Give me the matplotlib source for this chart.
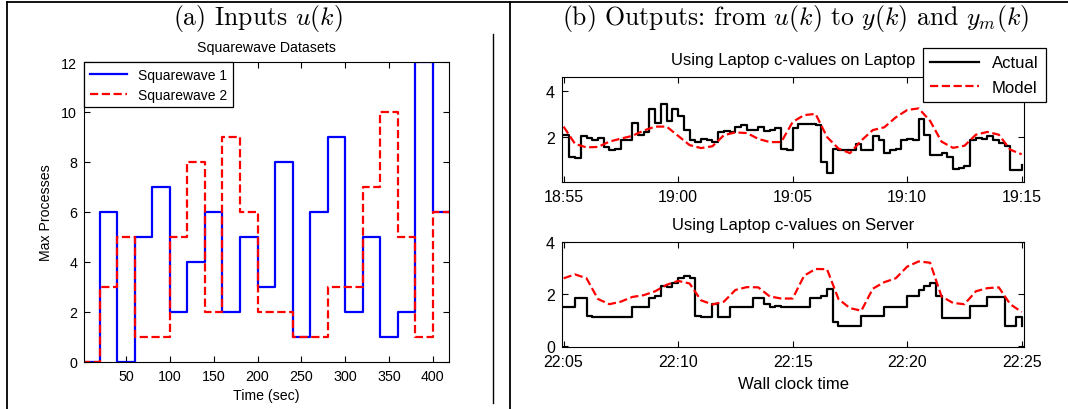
import matplotlib
matplotlib.use('Agg')
import matplotlib.pyplot as plt
from matplotlib.lines import Line2D
import numpy as np

plt.rcParams['font.family'] = ['Liberation Sans', 'DejaVu Sans']
plt.rcParams['mathtext.fontset'] = 'cm'
plt.rcParams['axes.unicode_minus'] = False

# (a) squarewave inputs: one value for each 20 s segment
sw_edges = list(range(0, 421, 20))
squarewave1 = [0, 6, 0, 5, 7, 2, 4, 6, 2, 5, 3, 8, 1, 6, 9, 2, 5, 1, 2, 12, 6]
squarewave2 = [0, 3, 5, 1, 1, 5, 8, 2, 9, 6, 2, 2, 1, 1, 3, 3, 7, 10, 5, 1, 6]
sw_xticks = [50, 100, 150, 200, 250, 300, 350, 400]
sw_yticks = [0, 2, 4, 6, 8, 10, 12]

# (b) outputs, minutes after the first tick
actual_t = np.arange(0, 20.01, 0.25)
model_t = np.arange(0, 20.01, 0.5)

laptop_actual = [2.1, 1.15, 1.1, 2.05, 1.95, 1.85, 1.95, 1.55, 1.45, 1.5,
                 1.85, 1.85, 2.6, 2.1, 2.2, 3.2, 2.6, 3.45, 2.7, 3.2,
                 2.9, 2.3, 1.85, 1.8, 1.9, 1.85, 1.8, 2.2, 2.25, 2.2,
                 2.45, 2.5, 2.3, 2.3, 2.45, 2.25, 2.3, 2.4, 1.5, 1.45,
                 2.4, 2.55, 2.55, 2.55, 2.5, 0.9, 0.45, 1.5, 1.45, 1.45,
                 1.45, 1.7, 1.45, 1.45, 2.05, 1.85, 1.3, 1.45, 1.5, 1.85,
                 1.9, 1.85, 2.8, 2.1, 1.2, 1.2, 1.3, 1.15, 0.6, 0.65,
                 0.75, 1.85, 1.95, 1.9, 2.05, 1.85, 1.75, 1.6, 0.55, 0.55,
                 0.8]
laptop_model = [2.45, 1.7, 1.55, 1.57, 1.8, 1.93, 2.05, 2.28, 2.45, 2.45,
                2.05, 1.65, 1.52, 1.6, 2.08, 2.2, 2.17, 1.92, 1.78, 1.78,
                2.65, 2.95, 3.0, 2.0, 1.5, 1.3, 1.85, 2.3, 2.42, 2.85,
                3.17, 3.24, 2.7, 1.8, 1.53, 1.62, 2.1, 2.22, 2.1, 1.45,
                1.25]

server_actual = [1.5, 1.5, 1.84, 1.84, 1.15, 1.1, 1.1, 1.1, 1.1, 1.1,
                 1.1, 1.1, 1.5, 1.5, 1.5, 1.84, 1.9, 2.29, 2.25, 2.41,
                 2.6, 2.67, 2.6, 1.14, 1.1, 1.1, 1.6, 1.1, 1.1, 1.5,
                 1.5, 1.5, 1.5, 1.84, 1.84, 1.6, 1.5, 1.55, 1.5, 1.5,
                 1.5, 1.5, 1.5, 1.84, 1.84, 1.9, 2.2, 0.9, 0.76, 0.76,
                 0.76, 0.76, 1.14, 1.14, 1.14, 1.14, 1.5, 1.5, 1.5, 1.5,
                 1.9, 1.9, 2.16, 2.3, 2.4, 1.9, 1.08, 1.08, 1.08, 1.08,
                 1.08, 1.52, 1.52, 1.52, 1.88, 1.88, 1.88, 0.76, 0.76, 1.1,
                 0.76]
server_model = [2.6, 2.75, 2.6, 1.8, 1.6, 1.7, 1.88, 1.95, 2.1, 2.35,
                2.5, 2.4, 1.75, 1.59, 1.7, 2.15, 2.26, 2.25, 1.9, 1.82,
                1.82, 2.7, 2.96, 2.95, 1.8, 1.45, 1.35, 2.2, 2.45, 2.6,
                3.05, 3.25, 3.2, 1.9, 1.65, 1.6, 2.1, 2.22, 2.25, 1.6,
                1.3]

clock_ticks = [0, 5, 10, 15, 20]
laptop_labels = ['18:55', '19:00', '19:05', '19:10', '19:15']
server_labels = ['22:05', '22:10', '22:15', '22:20', '22:25']

W, H = 1068, 410


def box(l, t, r, b):
    # pixel box (from top-left) -> figure fraction rect
    return [l / W, 1 - b / H, (r - l) / W, (b - t) / H]


def fig_line(x, y, lw=1.3):
    fig.add_artist(Line2D([v / W for v in x], [1 - v / H for v in y],
                          transform=fig.transFigure, color='black', lw=lw))


fig = plt.figure(figsize=(W / 100, H / 100), dpi=100)

# table rules
fig_line([7, W], [3, 3])
fig_line([7, 7], [3, H])
fig_line([510, 510], [3, H])
fig_line([493, 493], [35, 404], lw=1.0)

fig.text(258 / W, 1 - 18 / H, r'(a) Inputs $u(k)$', family='cmr10',
         fontsize=18.5, ha='center', va='center')
fig.text(796 / W, 1 - 18 / H,
         r'(b) Outputs: from $u(k)$ to $y(k)$ and $y_m(k)$', family='cmr10',
         fontsize=18.5, ha='center', va='center')

# ---- (a) inputs
ax = fig.add_axes(box(84, 63, 449, 363))
ax.step(sw_edges, squarewave1 + [squarewave1[-1]], where='post',
        color='#0000ff', lw=1.6, label='Squarewave 1')
ax.step(sw_edges, squarewave2 + [squarewave2[-1]], where='post',
        color='#ff0000', lw=1.6, ls='--', label='Squarewave 2')
ax.set_xlim(2, 418.5)
ax.set_ylim(0, 12)
ax.set_xticks(sw_xticks)
ax.set_yticks(sw_yticks)
ax.tick_params(direction='in', top=True, right=True, length=4,
               labelsize=10.3, pad=5)
ax.set_title('Squarewave Datasets', fontsize=10.2, pad=8)
ax.set_xlabel('Time (sec)', fontsize=10.2, labelpad=4)
ax.set_ylabel('Max Processes', fontsize=10.2, labelpad=6)
leg = ax.legend(loc='upper left', borderaxespad=0, fontsize=10,
                handlelength=2.7, fancybox=False, framealpha=1,
                edgecolor='black', borderpad=0.4, labelspacing=0.45,
                handletextpad=0.8)
leg.get_frame().set_linewidth(0.9)

# ---- (b) outputs
panels = [
    (box(562, 78, 1024, 183), laptop_actual, laptop_model, laptop_labels,
     'Using Laptop c-values on Laptop', (0.05, 4.6), [2, 4]),
    (box(562, 243, 1024, 348), server_actual, server_model, server_labels,
     'Using Laptop c-values on Server', (-0.05, 4.0), [0, 2, 4]),
]
axes = []
for rect, act, mod, labels, title, ylim, yticks in panels:
    bx = fig.add_axes(rect)
    bx.step(actual_t, act, where='post', color='black', lw=1.6, label='Actual')
    bx.plot(model_t, mod, color='#ff0000', lw=1.6, ls='--', label='Model')
    bx.set_xlim(-0.07, 20.1)
    bx.set_ylim(*ylim)
    bx.set_yticks(yticks)
    bx.set_xticks(clock_ticks)
    bx.set_xticklabels(labels)
    bx.tick_params(direction='in', top=True, right=True, length=4,
                   labelsize=11.5, pad=5)
    bx.set_title(title, fontsize=12, pad=9)
    axes.append(bx)

axes[1].set_xlabel('Wall clock time', fontsize=12, labelpad=5)

h, l = axes[0].get_legend_handles_labels()
leg2 = fig.legend(h, l, loc='upper right',
                  bbox_to_anchor=(1046 / W, 1 - 49 / H),
                  fontsize=12, handlelength=2.9, fancybox=False,
                  framealpha=1, edgecolor='black', borderpad=0.45,
                  labelspacing=0.55, borderaxespad=0)
leg2.get_frame().set_linewidth(0.9)

fig.savefig('out.png', dpi=100, facecolor='white')
